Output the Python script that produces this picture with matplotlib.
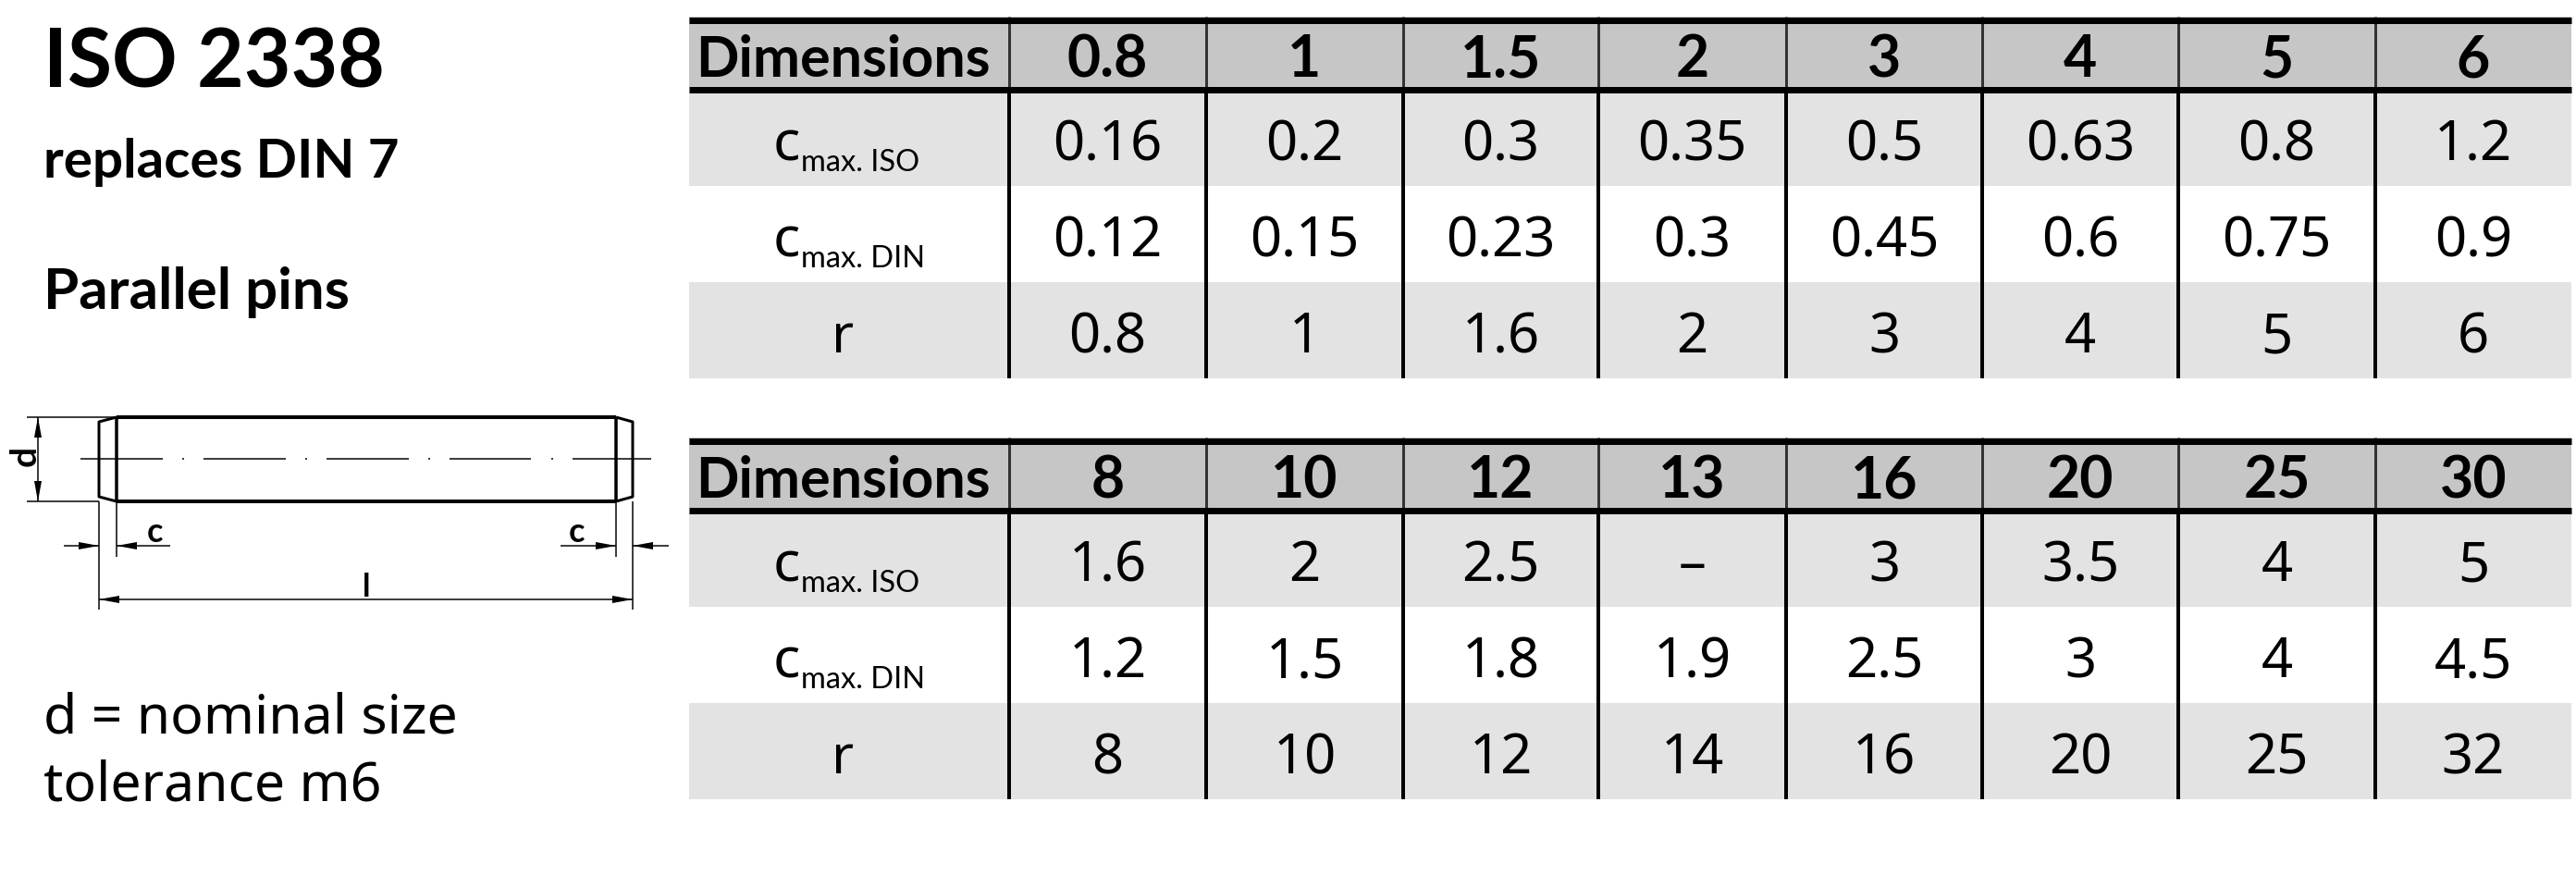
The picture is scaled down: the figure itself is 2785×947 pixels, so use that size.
import matplotlib
matplotlib.use('Agg')
import matplotlib.pyplot as plt

# table contents
sizes_top = ['0.8', '1', '1.5', '2', '3', '4', '5', '6']
c_iso_top = ['0.16', '0.2', '0.3', '0.35', '0.5', '0.63', '0.8', '1.2']
c_din_top = ['0.12', '0.15', '0.23', '0.3', '0.45', '0.6', '0.75', '0.9']
r_top = ['0.8', '1', '1.6', '2', '3', '4', '5', '6']

sizes_bottom = ['8', '10', '12', '13', '16', '20', '25', '30']
c_iso_bottom = ['1.6', '2', '2.5', '–', '3', '3.5', '4', '5']
c_din_bottom = ['1.2', '1.5', '1.8', '1.9', '2.5', '3', '4', '4.5']
r_bottom = ['8', '10', '12', '14', '16', '20', '25', '32']

row_names = [('c', 'max. ISO'), ('c', 'max. DIN'), ('r', '')]

# column edges in pixels, the 13 column is a bit narrower
col_edges = [745, 1091, 1304, 1517, 1728, 1931, 2143, 2355, 2568, 2780]

HEADER_GREY = '#c6c6c6'
ROW_GREY = '#e3e3e3'

BOLD = 'Lato'
WIDE = 'Noto Sans'
NARROW = 'Lato'

fig = plt.figure(figsize=(27.85, 9.47), dpi=100)
ax = fig.add_axes([0, 0, 1, 1])
ax.set_xlim(0, 2785)
ax.set_ylim(947, 0)
ax.axis('off')

PX = 0.72  # one pixel in points


def draw_table(top, header, rows):
    bar_top = top
    head_bot = top + 76
    row_bots = [top + 183, top + 287, top + 391]
    left, right = col_edges[0], col_edges[-1]

    ax.fill_between([left, right], bar_top, head_bot, color=HEADER_GREY, lw=0)
    ax.fill_between([left, right], head_bot, row_bots[0], color=ROW_GREY, lw=0)
    ax.fill_between([left, right], row_bots[1], row_bots[2], color=ROW_GREY, lw=0)

    for x in col_edges[1:-1]:
        ax.plot([x, x], [top, head_bot], color='#333333', lw=3 * PX, solid_capstyle='butt')
        ax.plot([x, x], [head_bot, row_bots[2]], color='black', lw=4 * PX, solid_capstyle='butt')
    ax.plot([left, right], [top + 3.5, top + 3.5], color='black', lw=7 * PX, solid_capstyle='butt')
    ax.plot([left, right], [head_bot + 3, head_bot + 3], color='black', lw=7 * PX, solid_capstyle='butt')

    ax.text((col_edges[0] + col_edges[1]) / 2 - 7, head_bot - 11, 'Dimensions', ha='center',
            va='baseline', family=BOLD, weight='bold', fontsize=44)
    centers = [(col_edges[i] + col_edges[i + 1]) / 2 for i in range(1, 9)]
    for cx, val in zip(centers, header):
        ax.text(cx, head_bot - 11, val, ha='center', va='baseline', family=BOLD,
                weight='bold', fontsize=45)

    for bot, (name, sub), vals in zip(row_bots, row_names, rows):
        base = bot - 28
        if sub:
            ax.text(865, base, name, ha='right', va='baseline', family=WIDE, fontsize=44)
            ax.text(866, base + 12, sub, ha='left', va='baseline', family=NARROW, fontsize=23.5)
        else:
            ax.text(911, base, name, ha='center', va='baseline', family=WIDE, fontsize=42)
        for cx, val in zip(centers, vals):
            ax.text(cx, base, val, ha='center', va='baseline', family=WIDE, fontsize=43)


draw_table(18, sizes_top, [c_iso_top, c_din_top, r_top])
draw_table(473, sizes_bottom, [c_iso_bottom, c_din_bottom, r_bottom])

# left text block
ax.text(47, 94, 'ISO 2338', family=BOLD, weight='bold', fontsize=63, va='baseline')
ax.text(47, 192, 'replaces DIN 7', family=BOLD, weight='bold', fontsize=42, va='baseline')
ax.text(47, 334, 'Parallel pins', family=BOLD, weight='bold', fontsize=44.5, va='baseline')
ax.text(47, 792, 'd = nominal size', family=WIDE, fontsize=42.5, va='baseline')
ax.text(47, 865, 'tolerance m6', family=WIDE, fontsize=42.5, va='baseline')


def line(xs, ys, w=1.5, **kw):
    ax.plot(xs, ys, color='black', lw=w * PX, solid_capstyle='butt', **kw)


def arrow(x, y, dx, dy):
    # filled arrow head, tip at x,y
    px, py = -dy * 4 / max(abs(dx), abs(dy)), dx * 4 / max(abs(dx), abs(dy))
    ax.fill([x, x - dx + px, x - dx - px], [y, y - dy + py, y - dy - py], color='black', lw=0)


# pin outline
line([126, 666], [451, 451], 4)
line([126, 666], [542, 542], 4)
line([126, 126], [451, 542], 3.5)
line([666, 666], [451, 542], 3.5)
line([126, 107, 107, 126], [451, 456, 537, 542], 3)
line([666, 684, 684, 666], [451, 456, 537, 542], 3)

# centre line
for x0, x1 in [(87, 176), (220, 309), (353, 442), (486, 574), (619, 704)]:
    line([x0, x1], [496, 496], 1.5)
for x0 in [198, 331, 464, 597]:
    line([x0 - 1, x0 + 1], [496, 496], 1.5)

# d dimension
line([29, 126], [451, 451])
line([29, 107], [542, 542])
line([41, 41], [451, 542])
arrow(41, 451, 0, -22)
arrow(41, 542, 0, 22)
ax.text(27, 493, 'd', rotation=90, ha='center', va='center', family=BOLD, weight='bold', fontsize=28)

# c dimensions
line([107, 107], [542, 659])
line([684, 684], [542, 659])
line([126, 126], [542, 602])
line([666, 666], [542, 602])
line([69, 107], [590, 590])
line([126, 184], [590, 590])
line([606, 666], [590, 590])
line([684, 723], [590, 590])
arrow(107, 590, 22, 0)
arrow(126, 590, -22, 0)
arrow(666, 590, 22, 0)
arrow(684, 590, -22, 0)
ax.text(167, 586, 'c', ha='center', va='baseline', family=BOLD, weight='bold', fontsize=26)
ax.text(624, 586, 'c', ha='center', va='baseline', family=BOLD, weight='bold', fontsize=26)

# l dimension
line([107, 684], [648, 648])
arrow(107, 648, -22, 0)
arrow(684, 648, 22, 0)
ax.text(396, 645, 'l', ha='center', va='baseline', family=BOLD, weight='bold', fontsize=25)

fig.savefig('out.png', dpi=100)
